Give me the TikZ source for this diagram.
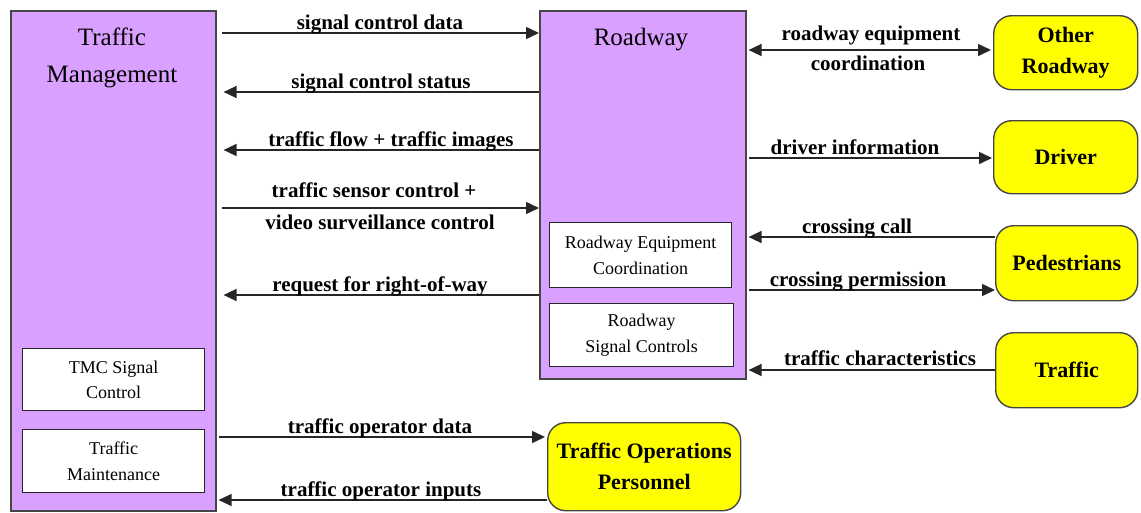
\documentclass[tikz,border=0pt]{standalone}
\usepackage{fontspec}
\setmainfont{Liberation Serif}
\usetikzlibrary{arrows.meta}
\definecolor{viol}{RGB}{217,160,255}
\definecolor{yel}{RGB}{255,255,0}
\definecolor{edge}{RGB}{70,70,70}
\begin{document}
\begin{tikzpicture}[x=1pt,y=-1pt,
  sysbox/.style={draw=edge, line width=1.6pt, fill=viol, anchor=north west, inner sep=0pt},
  subbox/.style={draw=black!85, line width=1.4pt, fill=white, anchor=north west, inner sep=0pt,
    align=center, font=\fontsize{18}{25.5}\selectfont},
  term/.style={draw=edge, line width=1.4pt, fill=yel, rounded corners=18pt, anchor=north west,
    inner sep=0pt, align=center, font=\fontsize{22}{31}\selectfont\bfseries},
  title/.style={anchor=north, align=center, inner sep=0pt, font=\fontsize{25}{37}\selectfont},
  lbl/.style={anchor=base, inner sep=0pt, font=\fontsize{21}{25}\selectfont\bfseries},
  arr/.style={draw=black!85, line width=1.6pt, -{Triangle[length=13pt,width=12pt]}},
  darr/.style={draw=black!85, line width=1.6pt, {Triangle[length=13pt,width=12pt]}-{Triangle[length=13pt,width=12pt]}}
]
\useasboundingbox (0,0) rectangle (1141,512);

% systems
\node[sysbox, minimum width=205pt, minimum height=500pt] (tm) at (10,10) {};
\node[title] (tmt) at (112,28) {Traffic\\Management};
\node[subbox, minimum width=182pt, minimum height=62pt] (tmc) at (22,348) {TMC Signal\\Control};
\node[subbox, minimum width=182pt, minimum height=63pt] (tmaint) at (22,429) {Traffic\\Maintenance};

\node[sysbox, minimum width=206pt, minimum height=368pt] (rw) at (539,10) {};
\node[title] (rwt) at (641,28) {Roadway};
\node[subbox, minimum width=182pt, minimum height=65pt] (rec) at (549,222) {Roadway Equipment\\Coordination};
\node[subbox, minimum width=184pt, minimum height=63pt] (rsc) at (549,303) {Roadway\\Signal Controls};

% terminators
\node[term, minimum width=144pt, minimum height=74pt] (orw) at (993,15) {Other\\Roadway};
\node[term, minimum width=144pt, minimum height=73pt] (drv) at (993,120) {Driver};
\node[term, minimum width=142pt, minimum height=75pt] (ped) at (995,225) {Pedestrians};
\node[term, minimum width=142pt, minimum height=75pt] (trf) at (995,332) {Traffic};
\node[term, minimum width=193pt, minimum height=88pt] (top) at (547,422) {Traffic Operations\\Personnel};

% flow rows
\coordinate (r1) at (0,33);
\coordinate (r2) at (0,92);
\coordinate (r3) at (0,150);
\coordinate (r4) at (0,208);
\coordinate (r5) at (0,295);
\coordinate (r6) at (0,50);
\coordinate (r7) at (0,158);
\coordinate (r8) at (0,237);
\coordinate (r9) at (0,290);
\coordinate (r10) at (0,370);
\coordinate (r11) at (0,437);
\coordinate (r12) at (0,500);

% Traffic Management <-> Roadway
\draw[arr, shorten <=5pt] (tm.east |- r1) -- (rw.west |- r1);
\node[lbl] at (380,29) {signal control data};
\draw[arr, shorten >=7pt] (rw.west |- r2) -- (tm.east |- r2);
\node[lbl] at (381,88) {signal control status};
\draw[arr, shorten >=7pt] (rw.west |- r3) -- (tm.east |- r3);
\node[lbl] at (391,146) {traffic flow + traffic images};
\draw[arr, shorten <=5pt] (tm.east |- r4) -- (rw.west |- r4);
\node[lbl] at (374,197) {traffic sensor control +};
\node[lbl] at (380,229) {video surveillance control};
\draw[arr, shorten >=7pt] (rw.west |- r5) -- (tm.east |- r5);
\node[lbl] at (380,291) {request for right-of-way};

% Roadway <-> terminators
\draw[darr, shorten <=2pt, shorten >=2pt] (rw.east |- r6) -- (orw.west |- r6);
\node[lbl] at (871,40) {roadway equipment};
\node[lbl] at (868,70) {coordination};
\draw[arr, shorten <=2pt, shorten >=1pt] (rw.east |- r7) -- (drv.west |- r7);
\node[lbl] at (855,154) {driver information};
\draw[arr, shorten >=2pt] (ped.west |- r8) -- (rw.east |- r8);
\node[lbl] at (857,233) {crossing call};
\draw[arr, shorten <=2pt] (rw.east |- r9) -- (ped.west |- r9);
\node[lbl] at (858,286) {crossing permission};
\draw[arr, shorten >=2pt] (trf.west |- r10) -- (rw.east |- r10);
\node[lbl] at (880,365) {traffic characteristics};

% Traffic Management <-> Traffic Operations Personnel
\draw[arr, shorten <=2pt, shorten >=2pt] (tm.east |- r11) -- (top.west |- r11);
\node[lbl] at (380,433) {traffic operator data};
\draw[arr, shorten >=2pt] (top.west |- r12) -- (tm.east |- r12);
\node[lbl] at (381,496) {traffic operator inputs};
\end{tikzpicture}
\end{document}
